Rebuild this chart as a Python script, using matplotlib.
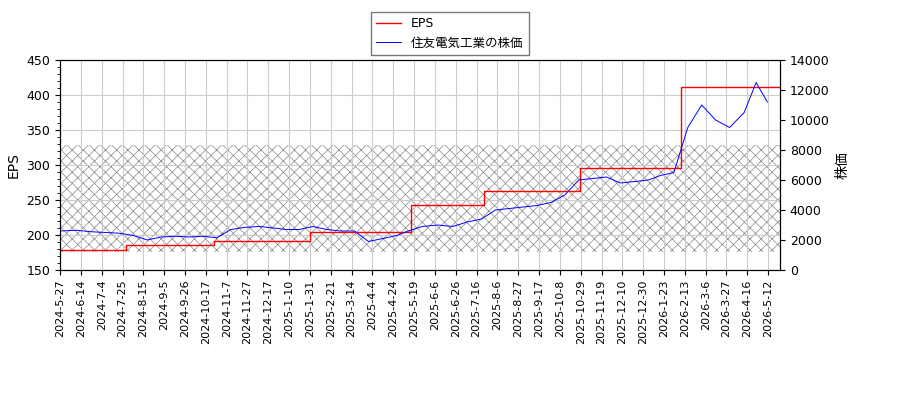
import numpy as np
import pandas as pd
import matplotlib
matplotlib.use('Agg')
import matplotlib.pyplot as plt
from matplotlib.ticker import AutoMinorLocator

plt.rcParams['font.family'] = ['DejaVu Sans', 'Noto Sans CJK JP']
plt.rcParams['hatch.linewidth'] = 0.5

# x tick labels (evenly spaced trading-day positions)
tick_labels = ['2024-5-27', '2024-6-14', '2024-7-4', '2024-7-25', '2024-8-15', '2024-9-5',
               '2024-9-26', '2024-10-17', '2024-11-7', '2024-11-27', '2024-12-17', '2025-1-10',
               '2025-1-31', '2025-2-21', '2025-3-14', '2025-4-4', '2025-4-24', '2025-5-19',
               '2025-6-6', '2025-6-26', '2025-7-16', '2025-8-6', '2025-8-27', '2025-9-17',
               '2025-10-8', '2025-10-29', '2025-11-19', '2025-12-10', '2025-12-30', '2026-1-23',
               '2026-2-13', '2026-3-6', '2026-3-27', '2026-4-16', '2026-5-12']

# stock price, one value every 2 weeks from 2024-05-27
price_start = '2024-05-27'
price = [2600, 2650, 2550, 2500, 2450, 2300, 2000, 2200, 2250, 2200,
         2250, 2150, 2700, 2850, 2900, 2800, 2700, 2700, 2900, 2700,
         2600, 2600, 1900, 2100, 2300, 2600,
         2900, 3000, 2900, 3200, 3400, 4000, 4100, 4200, 4300, 4500,
         5000, 6000, 6100, 6200, 5800, 5900, 6000, 6300,
         6500, 9500, 11000, 10000, 9500, 10500, 12500, 11200]

# EPS step changes
eps_dates = ['2024-05-27', '2024-07-29', '2024-10-25', '2025-01-31', '2025-05-15',
             '2025-07-24', '2025-10-28', '2026-02-09', '2026-05-25']
eps_vals = [178, 186, 192, 204, 243, 263, 295, 411, 411]

tick_ord = pd.to_datetime(tick_labels).map(pd.Timestamp.toordinal).to_numpy(float)
tick_pos = np.arange(len(tick_labels)) * 14.0
slope = 14.0 / (tick_ord[-1] - tick_ord[-2])


def to_pos(dates):
    o = pd.to_datetime(dates).map(pd.Timestamp.toordinal).to_numpy(float)
    p = np.interp(o, tick_ord, tick_pos)
    p[o > tick_ord[-1]] = tick_pos[-1] + (o[o > tick_ord[-1]] - tick_ord[-1]) * slope
    return p


px = to_pos(pd.date_range(price_start, periods=len(price), freq='14D'))
ex = to_pos(eps_dates)
xmax = tick_pos[-1] + 8

fig = plt.figure(figsize=(9, 4), dpi=100)
ax = fig.add_axes([0.0667, 0.325, 0.8, 0.525])
ax2 = ax.twinx()

ax.step(ex, eps_vals, where='post', color='red', lw=1, label='EPS')
ax.fill_between([0, xmax], 176, 328, facecolor='none',
                edgecolor='#888888', hatch='xxx', lw=0)
ax2.plot(px, price, color='blue', lw=0.7, label='住友電気工業の株価')

ax.set_xlim(0, xmax)
ax.set_ylim(150, 450)
ax2.set_ylim(0, 14000)
ax.set_ylabel('EPS')
ax2.set_ylabel('株価')
ax.yaxis.set_minor_locator(AutoMinorLocator())
ax.set_xticks(tick_pos)
ax.set_xticklabels(tick_labels, rotation=90, fontsize=8)
ax.grid(True, color='#cccccc')
for a in (ax, ax2):
    a.tick_params(axis='y', labelsize=9)

h1, l1 = ax.get_legend_handles_labels()
h2, l2 = ax2.get_legend_handles_labels()
fig.legend(h1 + h2, l1 + l2, loc='upper center', bbox_to_anchor=(0.5, 0.985),
           fancybox=False, edgecolor='#555555', fontsize=9)

fig.savefig('out.png')
